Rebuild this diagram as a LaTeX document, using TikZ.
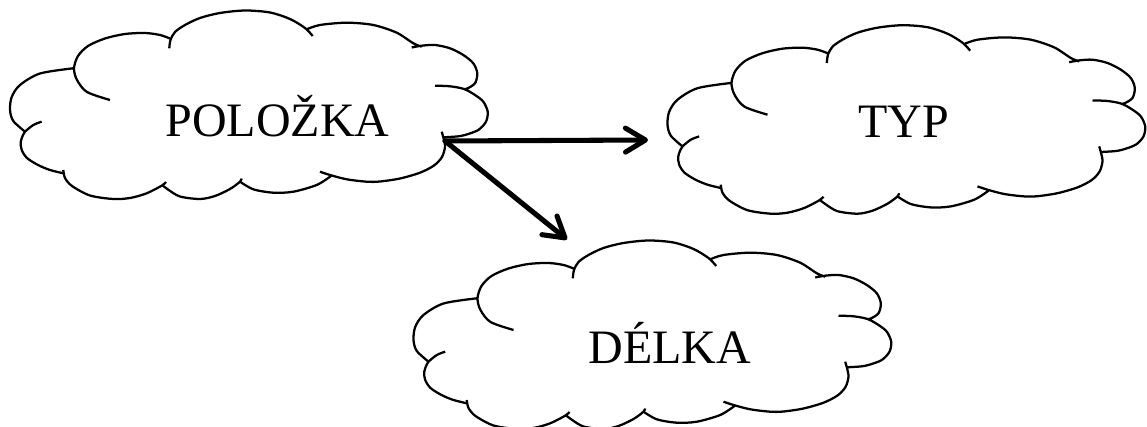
\documentclass[tikz,border=0pt]{standalone}
\usepackage{fontspec}
\setmainfont{Liberation Serif}
\usetikzlibrary{arrows.meta}
\newcommand\cloudpath{%
 plot[smooth] coordinates {(25,131.7) (13.3,121) (10,110) (11.7,97) (20,85) (40,73.5) (73.3,68.3)}
 plot[smooth] coordinates {(110,100) (87,92) (77,80) (74,68.3) (78,56) (88,46) (105,38.5) (125,34) (145,33) (160,35) (170,38.5)}
 plot[smooth] coordinates {(169.3,48.3) (170.5,40) (175,32) (185,25) (200,18) (220,13) (245,10.5) (270,12.5) (290,19) (305,28) (312.7,36)}
 plot[smooth] coordinates {(306.7,29.3) (320,25) (346.7,22.7) (373.3,25) (396.7,32.7) (413.3,43.3) (421.7,46.7)}
 plot[smooth] coordinates {(411.7,47.5) (421.7,45.7) (435,45) (450,48.3) (463.3,55) (473.3,63.3) (477.3,73.3) (475,83.3) (467.3,88.5) (464,89)}
 plot[smooth] coordinates {(435,85.7) (450,86.3) (464,89) (475,95) (483.3,101.7) (487.7,111.7) (486,121.7) (478.3,130) (465,135) (456.7,136.5) (443.3,137.3)}
 plot[smooth] coordinates {(441.7,131.7) (443.5,138) (445,146.7) (442,157) (434,165.5) (420,172.7) (400,178.5) (380,181.5) (366.7,181.7) (346.7,179.3) (330,175) (320,171.7)}
 plot[smooth] coordinates {(331,176) (316.7,185) (293.3,191.7) (273.3,192.7) (253.3,189.3) (240,181.7)}
 plot[smooth] coordinates {(241.5,178.5) (240,181.7) (230,189) (215,196) (200,199) (180,196.5) (168,189.5) (162,185)}
 plot[smooth] coordinates {(166,182) (162,185.5) (146.7,193.3) (130,198) (113.3,199) (90,195.5) (72,186) (65,178) (63.3,170)}
 plot[smooth] coordinates {(63.3,173.3) (50,170) (38,165) (27,158) (21.7,150) (20.7,142) (23,135) (25,131.7) (33.3,125) (41.7,121.7)}
}
\tikzset{
  cloudline/.style={line width=1.7pt, line join=round},
  arr/.style={line width=3.8pt, line cap=round, -{Straight Barb[length=15pt,width=18pt,line cap=round,line join=round]}},
  lbl/.style={anchor=base, inner sep=0pt, font=\fontsize{36}{40}\selectfont}
}
\begin{document}
\begin{tikzpicture}[x=0.75pt, y=-0.75pt]
\useasboundingbox (0,0) rectangle (1147,427);
% clouds
\draw[cloudline] \cloudpath;
\begin{scope}[shift={(657.5,14.7)}]
  \draw[cloudline] \cloudpath;
\end{scope}
\begin{scope}[shift={(403.5,230)}]
  \draw[cloudline] \cloudpath;
\end{scope}
% labels
\node[lbl] (polozka) at (277.5,136.7) {POLOŽKA};
\node[lbl] (typ) at (904,137.3) {TYP};
\node[lbl] (delka) at (669.7,363.3) {DÉLKA};
% connector ends
\coordinate (pout) at (445,141);
\coordinate (typin) at (648,140);
\coordinate (delin) at (567,239.5);
\draw[arr] (pout) -- (typin);
\draw[arr] (pout) -- (delin);
\end{tikzpicture}
\end{document}
